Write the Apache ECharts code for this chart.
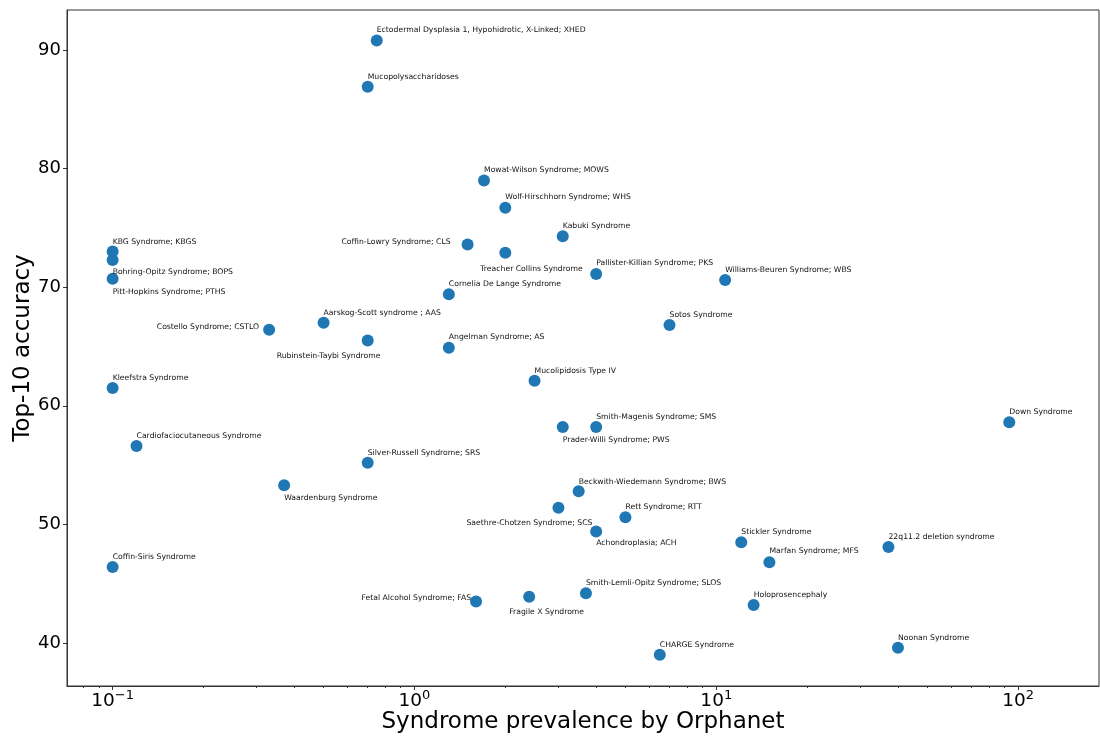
<!DOCTYPE html>
<html>
<head>
<meta charset="utf-8">
<script src="https://cdn.jsdelivr.net/npm/echarts@6/dist/echarts.min.js"></script>
<style>
html,body{margin:0;padding:0;background:#fff;}
#chart{width:1100px;height:738px;}
</style>
</head>
<body>
<div id="chart"></div>
<script>
// ---- data ----
const syndromes = [
  "Ectodermal Dysplasia 1, Hypohidrotic, X-Linked; XHED",
  "Mucopolysaccharidoses",
  "Mowat-Wilson Syndrome; MOWS",
  "Wolf-Hirschhorn Syndrome; WHS",
  "Kabuki Syndrome",
  "Coffin-Lowry Syndrome; CLS",
  "Treacher Collins Syndrome",
  "KBG Syndrome; KBGS",
  "Bohring-Opitz Syndrome; BOPS",
  "Pitt-Hopkins Syndrome; PTHS",
  "Pallister-Killian Syndrome; PKS",
  "Williams-Beuren Syndrome; WBS",
  "Cornelia De Lange Syndrome",
  "Aarskog-Scott syndrome ; AAS",
  "Costello Syndrome; CSTLO",
  "Sotos Syndrome",
  "Rubinstein-Taybi Syndrome",
  "Angelman Syndrome; AS",
  "Mucolipidosis Type IV",
  "Kleefstra Syndrome",
  "Down Syndrome",
  "Smith-Magenis Syndrome; SMS",
  "Prader-Willi Syndrome; PWS",
  "Cardiofaciocutaneous Syndrome",
  "Silver-Russell Syndrome; SRS",
  "Waardenburg Syndrome",
  "Beckwith-Wiedemann Syndrome; BWS",
  "Saethre-Chotzen Syndrome; SCS",
  "Rett Syndrome; RTT",
  "Achondroplasia; ACH",
  "Stickler Syndrome",
  "Marfan Syndrome; MFS",
  "22q11.2 deletion syndrome",
  "Coffin-Siris Syndrome",
  "Smith-Lemli-Opitz Syndrome; SLOS",
  "Fetal Alcohol Syndrome; FAS",
  "Fragile X Syndrome",
  "Holoprosencephaly",
  "CHARGE Syndrome",
  "Noonan Syndrome"
];
const prevalence = [
  0.75, 0.7, 1.7, 2.0, 3.1, 1.5, 2.0, 0.1, 0.1, 0.1,
  4.0, 10.7, 1.3, 0.5, 0.33, 7.0, 0.7, 1.3, 2.5, 0.1,
  93.5, 4.0, 3.1, 0.12, 0.7, 0.37, 3.5, 3.0, 5.0, 4.0,
  12.1, 15.0, 37.2, 0.1, 3.7, 1.6, 2.4, 13.3, 6.5, 40.0
];
const accuracy = [
  90.8, 86.9, 79.0, 76.7, 74.3, 73.6, 72.9, 73.0, 72.3, 70.7,
  71.1, 70.6, 69.4, 67.0, 66.4, 66.8, 65.5, 64.9, 62.1, 61.5,
  58.6, 58.2, 58.2, 56.6, 55.2, 53.3, 52.8, 51.4, 50.6, 49.4,
  48.5, 46.8, 48.1, 46.4, 44.2, 43.5, 43.9, 43.2, 39.0, 39.6
];
const xTickValues = [0.1, 1, 10, 100];
const yTickValues = [40, 50, 60, 70, 80, 90];
const xTitle = "Syndrome prevalence by Orphanet";
const yTitle = "Top-10 accuracy";

// ---- label layout (align, dx, dy in px from the marker centre) ----
const labelLayoutSpec = [
  ['left',0,-10],['left',0,-10],['left',0,-10],['left',0,-11],['left',0,-10],
  ['right',-17,-2],['left',-25,16],['left',0,-10],['left',0,12],['left',0,13],
  ['left',0,-11],['left',0,-10],['left',0,-10],['left',0,-10],['right',-10,-3],
  ['left',0,-10],['left',-91,15],['left',0,-11],['left',0,-10],['left',0,-10],
  ['left',0,-10],['left',0,-10],['left',0,13],['left',0,-10],['left',0,-10],
  ['left',0,13],['left',0,-9],['left',-92,15],['left',0,-10],['left',0,12],
  ['left',0,-10],['left',0,-11],['left',0,-10],['left',0,-10],['left',0,-10],
  ['right',-5,-3],['left',-20,15],['left',0,-10],['left',0,-10],['left',0,-10]
];

const FONT = "'DejaVu Sans', sans-serif";
const xMin = 0.0706, xMax = 185.4, yMin = 36.37, yMax = 93.37;

const minorTicks = [];
for (let e = -2; e <= 2; e++) {
  for (let k = 2; k <= 9; k++) {
    const v = k * Math.pow(10, e);
    if (v > xMin && v < xMax) minorTicks.push(v);
  }
}

const points = syndromes.map((n, i) => ({
  name: n,
  value: [prevalence[i], accuracy[i]],
  label: {align: labelLayoutSpec[i][0]}
}));

function supLabel(v) {
  const e = Math.round(Math.log10(v));
  return '{b|10}{s|' + (e < 0 ? '\u2212' + (-e) : String(e)) + '}';
}

const chart = echarts.init(document.getElementById('chart'), null, {renderer: 'canvas'});
chart.setOption({
  animation: false,
  backgroundColor: '#fff',
  textStyle: {fontFamily: FONT},
  grid: {
    left: 67, right: 1, top: 10, bottom: 52,
    outerBoundsMode: 'none', containLabel: false,
    show: true, borderColor: '#333', borderWidth: 1, backgroundColor: 'transparent'
  },
  xAxis: [{
    type: 'log', logBase: 10, min: xMin, max: xMax, position: 'bottom',
    name: xTitle, nameLocation: 'middle', nameGap: 25, nameMoveOverlap: false,
    nameTextStyle: {fontSize: 23, fontFamily: FONT, color: '#000'},
    axisLine: {show: true, onZero: false, lineStyle: {color: '#333', width: 1}},
    axisTick: {show: true, length: 4, customValues: xTickValues, lineStyle: {color: '#333'}},
    axisLabel: {
      show: true, margin: 3, customValues: xTickValues,
      formatter: supLabel,
      rich: {
        b: {fontSize: 18.5, fontFamily: FONT, color: '#000', verticalAlign: 'bottom', lineHeight: 22},
        s: {fontSize: 13, fontFamily: FONT, color: '#000', verticalAlign: 'top', lineHeight: 13}
      }
    },
    splitLine: {show: false}
  }, {
    type: 'log', logBase: 10, min: xMin, max: xMax, position: 'bottom', offset: 0,
    axisLine: {show: false},
    axisTick: {show: true, length: 2, customValues: minorTicks, lineStyle: {color: '#333'}},
    axisLabel: {show: false},
    splitLine: {show: false}
  }],
  yAxis: {
    type: 'value', min: yMin, max: yMax,
    name: yTitle, nameLocation: 'middle', nameGap: 32, nameRotate: 90, nameMoveOverlap: false,
    nameTextStyle: {fontSize: 23, fontFamily: FONT, color: '#000'},
    axisLine: {show: true, onZero: false, lineStyle: {color: '#333', width: 1}},
    axisTick: {show: true, length: 4, customValues: yTickValues, lineStyle: {color: '#333'}},
    axisLabel: {show: true, margin: 6, customValues: yTickValues, fontSize: 18, fontFamily: FONT, color: '#000'},
    splitLine: {show: false}
  },
  series: [{
    type: 'scatter',
    xAxisIndex: 0,
    symbol: 'circle',
    symbolSize: 12,
    itemStyle: {color: '#1f77b4', opacity: 1},
    emphasis: {disabled: true},
    label: {
      show: true,
      position: 'inside',
      verticalAlign: 'middle',
      formatter: p => p.name,
      fontSize: 7.7,
      fontFamily: FONT,
      color: '#111'
    },
    labelLayout: function (params) {
      const s = labelLayoutSpec[params.dataIndex];
      return {dx: s[1], dy: s[2], hideOverlap: false};
    },
    data: points
  }]
});
</script>
</body>
</html>
